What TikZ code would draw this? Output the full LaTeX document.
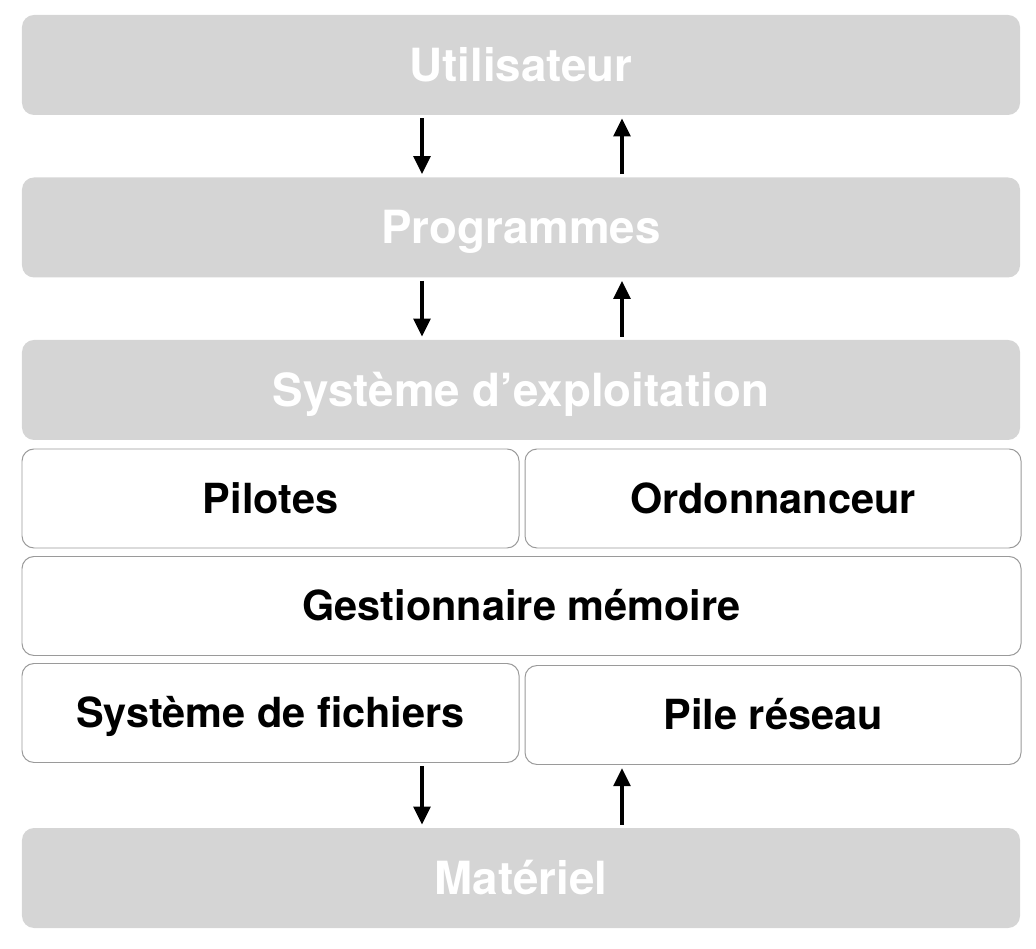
\documentclass[tikz,border=0pt]{standalone}
\usepackage{fontspec}
\setmainfont{TeX Gyre Heros}
\usepackage{tikz}
\usetikzlibrary{arrows.meta}

\definecolor{layergray}{HTML}{D5D5D5}
\definecolor{boxline}{HTML}{9A9A9A}

\begin{document}
\begin{tikzpicture}[
    layer/.style={fill=layergray, rounded corners=0.3cm, minimum height=2.5cm,
        minimum width=24.95cm, inner sep=0pt, text=white, text height=23.4pt, text depth=0pt,
        font=\fontsize{32.5}{36}\selectfont\bfseries},
    part/.style={draw=boxline, line width=0.7pt, fill=white, rounded corners=0.3cm,
        minimum height=2.475cm, inner sep=0pt, text height=21.2pt, text depth=0pt,
        font=\fontsize{29.5}{33}\selectfont\bfseries},
    arr/.style={line width=2.4pt, -{Triangle[length=0.45cm, width=0.42cm]},
        shorten <=0.08cm, shorten >=0.08cm}
]
    \useasboundingbox (0, 0) rectangle (25.9, 23.7);

    % Grey layers
    \node[layer] (util) at (13.025, 22.075) {Utilisateur};
    \node[layer] (prog) at (13.025, 18.0125) {Programmes};
    \node[layer] (os) at (13.025, 13.95) {Système d’exploitation};
    \node[layer] (mat) at (13.025, 1.75) {Matériel};

    % Parts of the system
    \node[part, minimum width=12.425cm] (pil) at (6.7625, 11.2375) {Pilotes};
    \node[part, minimum width=12.4cm] (ord) at (19.325, 11.2375) {Ordonnanceur};
    \node[part, minimum width=24.975cm] (gest) at (13.0375, 8.55) {Gestionnaire mémoire};
    \node[part, minimum width=12.425cm] (fich) at (6.7625, 5.875) {Système de fichiers};
    \node[part, minimum width=12.4cm] (pile) at (19.325, 5.825) {Pile réseau};

    % Arrows
    \coordinate (l) at (10.55, 0);
    \coordinate (r) at (15.55, 0);
    \draw[arr] (util.south -| l) -- (prog.north -| l);
    \draw[arr] (prog.north -| r) -- (util.south -| r);
    \draw[arr] (prog.south -| l) -- (os.north -| l);
    \draw[arr] (os.north -| r) -- (prog.south -| r);
    \draw[arr] (fich.south -| l) -- (mat.north -| l);
    \draw[arr] (mat.north -| r) -- (pile.south -| r);
\end{tikzpicture}
\end{document}
